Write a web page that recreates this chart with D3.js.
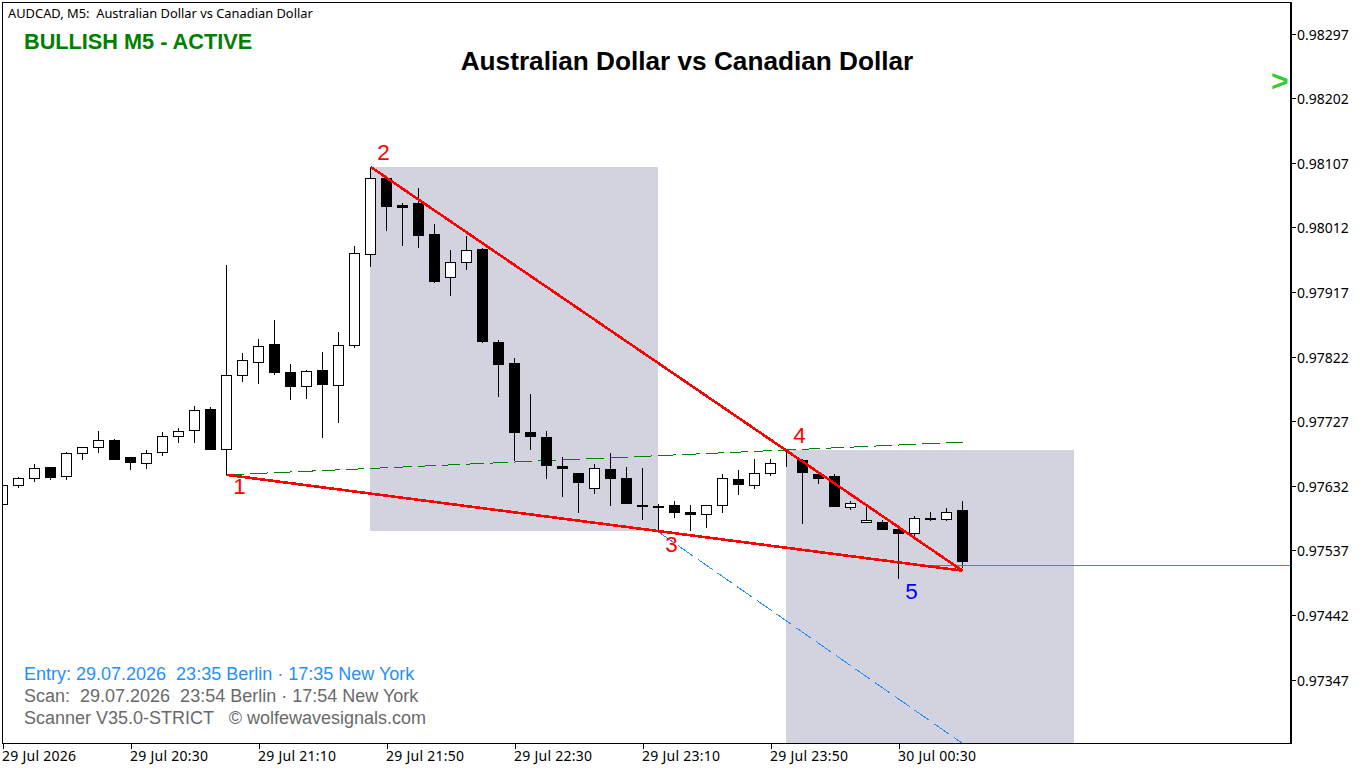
<!DOCTYPE html>
<html><head><meta charset="utf-8">
<script src="https://cdn.jsdelivr.net/npm/d3@7/dist/d3.min.js"></script>
<style>
html,body{margin:0;padding:0;background:#fff;overflow:hidden}
svg{display:block}
text{white-space:pre}
</style></head><body>
<svg id="c" width="1369" height="770"></svg>
<script>
const opens=[0.97604,0.97632,0.97642,0.97660,0.97645,0.97679,0.97687,0.97699,0.97674,0.97664,0.97680,0.97704,0.97712,0.97745,0.97685,0.97793,0.97812,0.97840,0.97799,0.97777,0.97802,0.97779,0.97837,0.97971,0.98085,0.98045,0.98048,0.98002,0.97937,0.97960,0.97980,0.97843,0.97812,0.97711,0.97704,0.97661,0.97651,0.97627,0.97657,0.97643,0.97604,0.97602,0.97604,0.97593,0.97589,0.97602,0.97642,0.97632,0.97649,0.97664,0.97670,0.97649,0.97646,0.97599,0.97577,0.97579,0.97568,0.97561,0.97585,0.97582,0.97596];
const highs=[0.97633,0.97645,0.97664,0.97660,0.97682,0.97689,0.97712,0.97701,0.97674,0.97685,0.97711,0.97717,0.97749,0.97748,0.97957,0.97827,0.97848,0.97876,0.97811,0.97802,0.97829,0.97858,0.97985,0.98101,0.98085,0.98048,0.98070,0.98017,0.97979,0.97999,0.97982,0.97846,0.97820,0.97767,0.97712,0.97674,0.97651,0.97664,0.97680,0.97660,0.97658,0.97605,0.97610,0.97604,0.97604,0.97649,0.97655,0.97671,0.97671,0.97685,0.97671,0.97649,0.97649,0.97610,0.97601,0.97582,0.97568,0.97587,0.97593,0.97599,0.97610];
const lows=[0.97604,0.97629,0.97637,0.97640,0.97640,0.97670,0.97680,0.97670,0.97655,0.97657,0.97676,0.97695,0.97695,0.97685,0.97648,0.97785,0.97782,0.97795,0.97758,0.97760,0.97702,0.97724,0.97835,0.97954,0.98007,0.97985,0.97982,0.97930,0.97911,0.97949,0.97842,0.97762,0.97668,0.97685,0.97642,0.97615,0.97592,0.97620,0.97602,0.97605,0.97582,0.97564,0.97585,0.97565,0.97570,0.97592,0.97618,0.97627,0.97646,0.97660,0.97576,0.97635,0.97601,0.97596,0.97577,0.97567,0.97495,0.97557,0.97580,0.97580,0.97511];
const closes=[0.97633,0.97643,0.97658,0.97643,0.97680,0.97689,0.97699,0.97670,0.97665,0.97680,0.97705,0.97712,0.97743,0.97685,0.97795,0.97817,0.97837,0.97798,0.97777,0.97801,0.97780,0.97839,0.97974,0.98085,0.98042,0.98040,0.97999,0.97932,0.97961,0.97979,0.97843,0.97810,0.97710,0.97704,0.97661,0.97657,0.97636,0.97658,0.97642,0.97605,0.97601,0.97599,0.97592,0.97589,0.97604,0.97643,0.97633,0.97651,0.97665,0.97664,0.97651,0.97642,0.97601,0.97607,0.97582,0.97567,0.97561,0.97585,0.97582,0.97593,0.97520];

const priceTicks=[0.98297,0.98202,0.98107,0.98012,0.97917,0.97822,0.97727,0.97632,0.97537,0.97442,0.97347];
const timeTickIndex=[0,8,16,24,32,40,48,56];
const timeTickLabels=["29 Jul 2026","29 Jul 20:30","29 Jul 21:10","29 Jul 21:50","29 Jul 22:30","29 Jul 23:10","29 Jul 23:50","30 Jul 00:30"];

const waveIndex=[14,23,41,49,56];
const wavePrice=[0.97648,0.98101,0.97564,0.97685,0.97495];
const waveLabels=["1","2","3","4","5"];
const apexIndex=60, apexPrice=0.97507;
const upperGreenEnd=0.97696;
const blueTargetPrice=0.97253;
const bidPrice=0.97515, bidStartIndex=57;

const boxes=[{i0:23,i1:41,p0:0.98101,p1:0.97565},{i0:49,i1:67,p0:0.97685,p1:0.97250}];

const headerText="AUDCAD, M5:  Australian Dollar vs Canadian Dollar";
const statusText="BULLISH M5 - ACTIVE";
const titleText="Australian Dollar vs Canadian Dollar";
const footerLines=["Entry: 29.07.2026  23:35 Berlin · 17:35 New York","Scan:  29.07.2026  23:54 Berlin · 17:54 New York","Scanner V35.0-STRICT   © wolfewavesignals.com"];

const svg=d3.select("#c");
const x=d3.scaleLinear().domain([0,60]).range([2.5,962.5]);
const y=d3.scaleLinear().domain([0.97347,0.98297]).range([679.5,33.5]);
const px=p=>Math.round(y(p));
const L=2,T=2,R=1290,B=743;
const tahoma='"Noto Sans","Open Sans",sans-serif';
const arial='"Liberation Sans",Arial,sans-serif';

svg.append("defs").append("clipPath").attr("id","plot").append("rect")
  .attr("x",L).attr("y",T).attr("width",R-L).attr("height",B-T);
const plot=svg.append("g").attr("clip-path","url(#plot)");

// boxes
plot.selectAll("rect.box").data(boxes).join("rect").attr("class","box")
  .attr("x",d=>Math.floor(x(d.i0))).attr("width",d=>Math.floor(x(d.i1))-Math.floor(x(d.i0)))
  .attr("y",d=>px(d.p0)).attr("height",d=>Math.min(px(d.p1),B)-px(d.p0))
  .attr("fill","#d3d3e0");

// dashed
const dash="18,6";
plot.append("line").attr("x1",x(waveIndex[0])).attr("y1",y(wavePrice[0])).attr("x2",x(apexIndex)).attr("y2",y(upperGreenEnd))
  .attr("stroke","#008000").attr("stroke-width",1).attr("stroke-dasharray",dash).attr("shape-rendering","crispEdges");
plot.append("line").attr("x1",x(waveIndex[2])).attr("y1",y(wavePrice[2])).attr("x2",x(apexIndex)).attr("y2",y(blueTargetPrice))
  .attr("stroke","#1e90ff").attr("stroke-width",1).attr("stroke-dasharray",dash).attr("shape-rendering","crispEdges");

// candles
const idx=d3.range(opens.length);
const cg=plot.append("g").attr("shape-rendering","crispEdges");
cg.selectAll("line.w").data(idx).join("line").attr("class","w")
  .attr("x1",i=>x(i)).attr("x2",i=>x(i))
  .attr("y1",i=>px(highs[i])).attr("y2",i=>px(lows[i]))
  .attr("stroke","#000").attr("stroke-width",1);
cg.selectAll("rect.b").data(idx).join("rect").attr("class","b")
  .attr("x",i=>x(i)-5).attr("width",10)
  .attr("y",i=>Math.min(px(opens[i]),px(closes[i]))+0.5)
  .attr("height",i=>Math.max(0,Math.abs(px(opens[i])-px(closes[i]))-1))
  .attr("fill",i=>closes[i]>=opens[i]?"#fff":"#000")
  .attr("stroke","#000").attr("stroke-width",1);

// bid line
plot.append("line").attr("x1",x(bidStartIndex)).attr("x2",R).attr("y1",px(bidPrice)+0.5).attr("y2",px(bidPrice)+0.5)
  .attr("stroke","#1e90ff").attr("stroke-width",1).attr("shape-rendering","crispEdges");

// red wedge lines
plot.selectAll("line.r").data([[waveIndex[0],wavePrice[0]],[waveIndex[1],wavePrice[1]]]).join("line").attr("class","r")
  .attr("x1",d=>x(d[0])).attr("y1",d=>y(d[1])).attr("x2",x(apexIndex)).attr("y2",y(apexPrice))
  .attr("stroke","#f00").attr("stroke-width",2.6).attr("shape-rendering","crispEdges");

// frame
svg.append("g").attr("shape-rendering","crispEdges").call(g=>{
  g.append("rect").attr("x",L+.5).attr("y",T+.5).attr("width",R-L).attr("height",B-T).attr("fill","none").attr("stroke","#000");
  g.append("rect").attr("x",R).attr("y",T).attr("width",2).attr("height",B-T+1).attr("fill","#000");
});

// axes
const yAxis=svg.append("g").attr("transform","translate(1292,0)")
  .call(d3.axisRight(y).tickValues(priceTicks).tickSize(4).tickPadding(1).tickFormat(d3.format(".5f")));
const xAxis=svg.append("g").attr("transform",`translate(0,${B+.5})`)
  .call(d3.axisBottom(x).tickValues(timeTickIndex).tickSize(5).tickPadding(3).tickFormat((d,i)=>timeTickLabels[i]));
[yAxis,xAxis].forEach(a=>{
  a.select(".domain").remove();
  a.selectAll("line").attr("stroke","#000").attr("shape-rendering","crispEdges");
  a.selectAll("text").attr("font-family",tahoma).attr("font-size",14).attr("fill","#000");
});
yAxis.selectAll("text").attr("dy","0.4em");
xAxis.selectAll("text").attr("text-anchor","start").attr("x",-1).attr("letter-spacing",0.25);

// texts
const t=(s,xx,yy,size,fill,font,weight,anchor)=>svg.append("text").attr("x",xx).attr("y",yy).attr("font-size",size)
  .attr("fill",fill).attr("font-family",font).attr("font-weight",weight||"normal").attr("text-anchor",anchor||"start").text(s);
t(headerText,8,18,12.87,"#000",tahoma);
t(statusText,24,49,21.7,"#008000",arial,"bold");
t(titleText,687,70,26.2,"#000",arial,"bold","middle");
footerLines.forEach((s,i)=>t(s,24,680+i*22,18,i==0?"#1e90ff":"#696969",arial));
t(">",1271,91,30,"#32cd32",arial,"bold");

const offs=[[13,19],[13,-7],[13,20],[13,-7],[13,20]];
waveLabels.forEach((s,i)=>t(s,x(waveIndex[i])+offs[i][0],px(wavePrice[i])+offs[i][1],22.5,i==4?"#0000ff":"#ff0000",arial,"normal","middle"));
</script>
</body></html>
